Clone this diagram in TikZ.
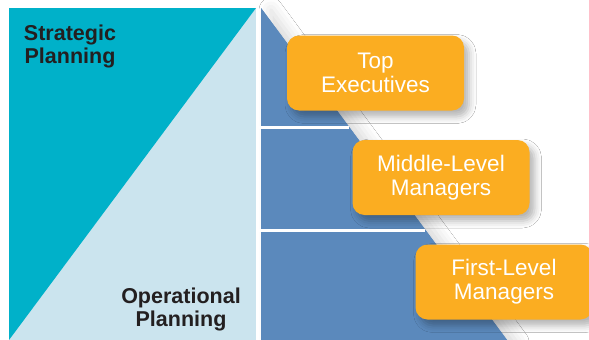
\documentclass[tikz,border=0pt]{standalone}
\usepackage{fontspec}
\setmainfont{Liberation Sans}
\usetikzlibrary{shadows.blur}
\definecolor{teal1}{HTML}{00B1C9}
\definecolor{lightb}{HTML}{CBE4EE}
\definecolor{blueb}{HTML}{5B89BC}
\definecolor{orangeb}{HTML}{FBAD21}
\definecolor{darkt}{HTML}{231F20}
\tikzset{
  levelbox/.style={fill=orangeb, rounded corners=12pt, minimum width=177pt, minimum height=75pt,
    text=white, align=center, font=\fontsize{22.5}{24}\selectfont, inner sep=0pt,
    blur shadow={shadow xshift=5pt, shadow yshift=-6pt, shadow blur radius=7pt, shadow opacity=30}},
  planlabel/.style={text=darkt, align=center, font=\bfseries\fontsize{21.5}{23}\selectfont, inner sep=0pt},
  divider/.style={draw=white, line width=3pt}
}
\begin{document}
\begin{tikzpicture}[x=1pt,y=-1pt]
\useasboundingbox (0,0) rectangle (589,340);
\fill[white] (0,0) rectangle (589,340);
% left panel
\fill[lightb] (9,8) rectangle (256,340);
\fill[teal1] (9,8) -- (256,8) -- (9,340) -- cycle;
% blue pyramid with soft shadow
\fill[blueb, blur shadow={shadow xshift=10pt, shadow yshift=-2pt, shadow blur radius=12pt, shadow opacity=15}]
  (261,8) -- (507,340) -- (261,340) -- cycle;
\fill[blueb] (261,8) -- (507,340) -- (261,340) -- cycle;
\coordinate (d1a) at (256,127);
\coordinate (d1b) at (349,127);
\coordinate (d2a) at (256,230);
\coordinate (d2b) at (425,230);
\draw[divider] (d1a) -- (d1b);
\draw[divider] (d2a) -- (d2b);
% labels
\node[planlabel] (strat) at (70,46) {Strategic\\Planning};
\node[planlabel] (oper) at (181,309) {Operational\\Planning};
% boxes
\node[levelbox] (top) at (375.5,73) {Top\\Executives};
\node[levelbox] (mid) at (441,177.5) {Middle-Level\\Managers};
\node[levelbox] (first) at (504,282) {First-Level\\Managers};
\end{tikzpicture}
\end{document}
